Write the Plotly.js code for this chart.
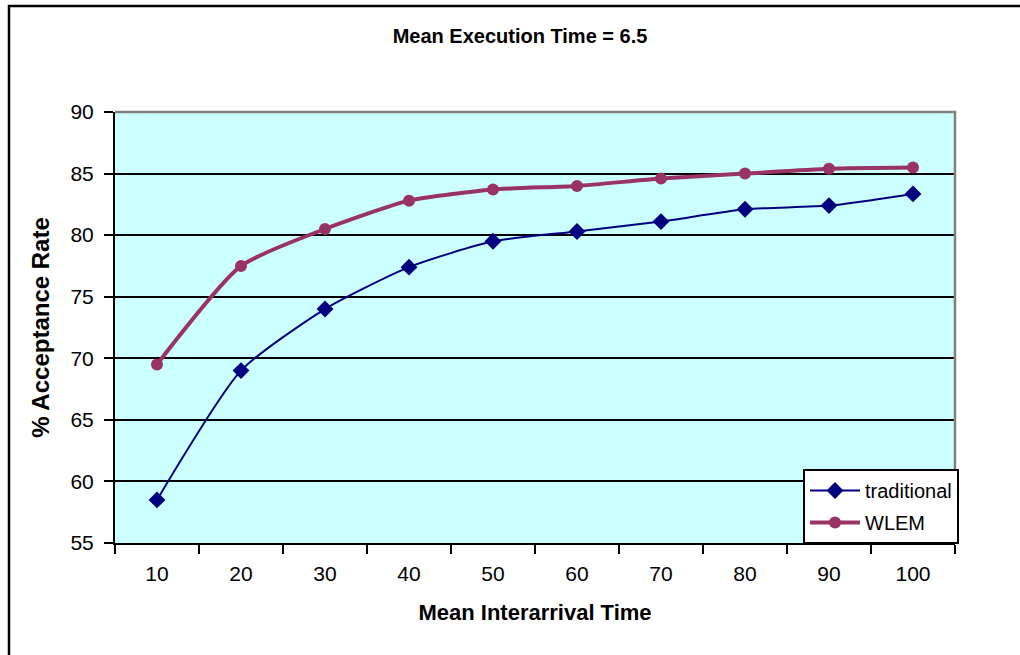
<!DOCTYPE html>
<html>
<head>
<meta charset="utf-8">
<script src="https://cdn.plot.ly/plotly-3.0.1.min.js"></script>
<style>html,body{margin:0;padding:0;background:#fff;}#chart{width:1020px;height:655px;}</style>
</head>
<body>
<div id="chart"></div>
<script>
const categories = ["10","20","30","40","50","60","70","80","90","100"];
const traditional = [58.5, 69.0, 74.0, 77.4, 79.5, 80.3, 81.1, 82.1, 82.4, 83.35];
const wlem = [69.5, 77.5, 80.5, 82.8, 83.7, 84.0, 84.6, 85.0, 85.4, 85.5];
const yTicks = [55, 60, 65, 70, 75, 80, 85, 90];

const L = 115, R = 955, T = 112, B = 543, W = 1020, H = 655;
const px = x => (x - L) / (R - L);
const py = y => (B - y) / (B - T);
const FONT = "Liberation Sans, Arial, sans-serif";

const traces = [
  {
    x: categories, y: traditional, name: "traditional", legendgroup: "a", type: "scatter", mode: "lines+markers",
    line: {color: "#000080", width: 2, shape: "spline", smoothing: 0.6},
    marker: {symbol: "diamond", size: 13, color: "#000080"}
  },
  {
    x: categories, y: wlem, name: "WLEM", legendgroup: "b", type: "scatter", mode: "lines+markers",
    line: {color: "#993366", width: 4, shape: "spline", smoothing: 0.6},
    marker: {symbol: "circle", size: 12, color: "#993366"}
  }
];

const layout = {
  width: W, height: H,
  margin: {l: L, r: W - R, t: T, b: H - B},
  paper_bgcolor: "#ffffff",
  plot_bgcolor: "#CCFFFF",
  font: {family: FONT, color: "#000"},
  title: {
    text: "<b>Mean Execution Time = 6.5</b>",
    font: {size: 20, family: FONT, color: "#000"},
    xref: "container", x: 520 / W, xanchor: "center",
    yref: "container", y: 1 - 36 / H, yanchor: "middle"
  },
  xaxis: {
    type: "category",
    range: [-0.5, 9.5],
    tickson: "boundaries",
    ticks: "outside", ticklen: 9, tickwidth: 2, tickcolor: "#000",
    ticklabelstandoff: 11,
    showline: true, linecolor: "#000", linewidth: 2,
    showgrid: false,
    tickfont: {size: 21, color: "#000"},
    title: {text: "<b>Mean Interarrival Time</b>", font: {size: 22, color: "#000"}, standoff: 20}
  },
  yaxis: {
    range: [55, 90],
    tickvals: yTicks,
    ticktext: yTicks.map(String),
    ticks: "outside", ticklen: 9, tickwidth: 2, tickcolor: "#000",
    ticklabelstandoff: 6,
    showline: true, linecolor: "#000", linewidth: 2,
    showgrid: true, gridcolor: "#000", gridwidth: 2,
    zeroline: false,
    tickfont: {size: 21, color: "#000"},
    title: {text: "<b>% Acceptance Rate</b>", font: {size: 24, color: "#000"}, standoff: 14}
  },
  legend: {
    x: px(803), y: py(469), xanchor: "left", yanchor: "top",
    bgcolor: "#ffffff", bordercolor: "#000", borderwidth: 2,
    font: {size: 20, color: "#000"},
    tracegroupgap: 3,
    itemwidth: 50
  },
  shapes: [
    {type: "path", xref: "paper", yref: "paper", layer: "above",
     path: `M 0 1 L 1 1 L 1 0`, line: {color: "#808080", width: 2.5}},
    {type: "path", xref: "paper", yref: "paper", layer: "above",
     path: `M ${px(9)} ${py(H + 5)} L ${px(9)} ${py(6)} L ${px(W + 5)} ${py(6)}`,
     line: {color: "#000", width: 2.5}}
  ],
  showlegend: true
};

Plotly.newPlot("chart", traces, layout, {displayModeBar: false, staticPlot: true});
</script>
</body>
</html>
